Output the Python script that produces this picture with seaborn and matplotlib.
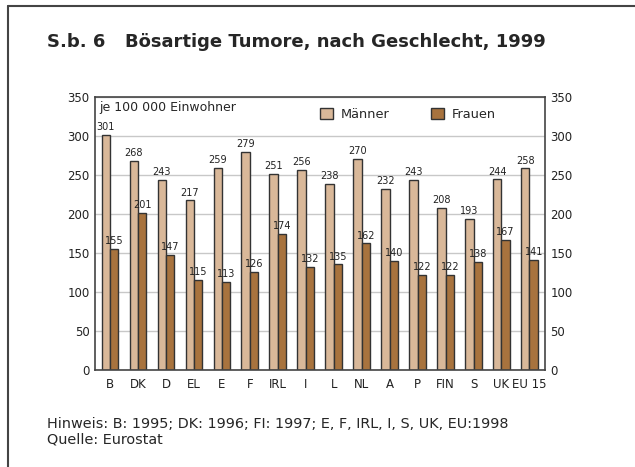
import pandas as pd
import numpy as np
import seaborn as sns
import matplotlib.pyplot as plt
from matplotlib.lines import Line2D

sns.set_style("white")
plt.rcParams['font.family'] = ['Liberation Sans Narrow', 'DejaVu Sans']

laender = ['B', 'DK', 'D', 'EL', 'E', 'F', 'IRL', 'I', 'L', 'NL', 'A', 'P', 'FIN', 'S', 'UK', 'EU 15']
maenner = [301, 268, 243, 217, 259, 279, 251, 256, 238, 270, 232, 243, 208, 193, 244, 258]
frauen = [155, 201, 147, 115, 113, 126, 174, 132, 135, 162, 140, 122, 122, 138, 167, 141]

df = pd.DataFrame({
    'Land': laender * 2,
    'Wert': maenner + frauen,
    'Geschlecht': ['Männer'] * len(laender) + ['Frauen'] * len(laender),
})

fig = plt.figure(figsize=(6.35, 4.67), dpi=100)
ax = fig.add_axes([0.150, 0.208, 0.708, 0.585])

sns.barplot(data=df, x='Land', y='Wert', hue='Geschlecht',
            palette={'Männer': '#d9b899', 'Frauen': '#a8733e'},
            width=0.6, edgecolor='#333333', linewidth=1.0, saturation=1,
            ax=ax)

for c in ax.containers:
    ax.bar_label(c, fontsize=7, padding=2, color='#222222')

ax.set_ylim(0, 350)
ax.set_xlim(-0.53, 15.55)
ax.set_yticks(range(0, 351, 50))
ax.yaxis.grid(True, color='#c8c8c8', linewidth=1)
ax.set_axisbelow(True)
ax.set_xlabel('')
ax.set_ylabel('')
ax.tick_params(axis='both', labelsize=8.5, length=0, colors='#222222', pad=6)
ax.tick_params(axis='y', labelright=True, right=False, pad=4)
for s in ax.spines.values():
    s.set_color('#444444')
    s.set_linewidth(1.2)

ax.text(0.01, 0.985, 'je 100 000 Einwohner', transform=ax.transAxes,
        fontsize=9, va='top', ha='left', family=['DejaVu Sans'])

leg = ax.legend(loc='upper left', bbox_to_anchor=(0.5, 0.96), ncol=2,
                frameon=False, borderpad=0, borderaxespad=0,
                handlelength=1.0, handleheight=1.0, handletextpad=0.6,
                columnspacing=3.2, prop={'family': 'DejaVu Sans', 'size': 9.3})

fig.text(0.074, 0.91, 'S.b. 6', fontsize=13, fontweight='bold', va='center',
         family=['DejaVu Sans'])
fig.text(0.197, 0.91, 'Bösartige Tumore, nach Geschlecht, 1999', fontsize=13,
         fontweight='bold', va='center', family=['DejaVu Sans'])

fig.text(0.074, 0.092, 'Hinweis: B: 1995; DK: 1996; FI: 1997; E, F, IRL, I, S, UK, EU:1998',
         fontsize=10.4, va='center', family=['DejaVu Sans'])
fig.text(0.074, 0.058, 'Quelle: Eurostat', fontsize=10.4, va='center',
         family=['DejaVu Sans'])

fig.add_artist(Line2D([0.0126, 1.0], [0.987, 0.987], color='#444444', linewidth=1.5,
                      transform=fig.transFigure))
fig.add_artist(Line2D([0.0126, 0.0126], [0.0, 0.987], color='#444444', linewidth=1.5,
                      transform=fig.transFigure))

fig.savefig('out.png', dpi=100)
